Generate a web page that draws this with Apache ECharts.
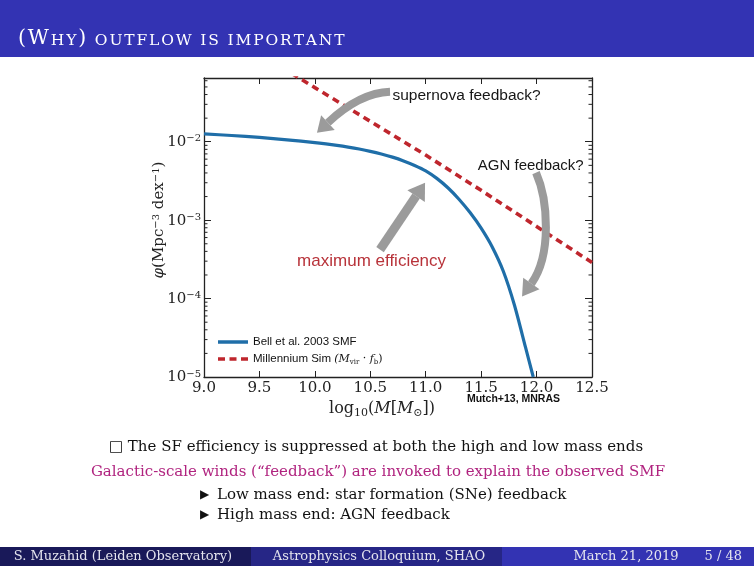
<!DOCTYPE html>
<html>
<head>
<meta charset="utf-8">
<script src="https://cdn.jsdelivr.net/npm/echarts@6/dist/echarts.min.js"></script>
<style>html,body{margin:0;padding:0;background:#fff;}#c{width:754px;height:566px;}</style>
</head>
<body>
<div id="c"></div>
<script>
// ---------- data ----------
const massBell = [9.0, 9.25, 9.5, 9.75, 10.0, 10.1, 10.2, 10.3, 10.4, 10.5, 10.6, 10.7, 10.8, 10.9, 11.0, 11.1, 11.2, 11.3, 11.4, 11.5, 11.6, 11.7, 11.8, 11.9, 11.97];
const phiBell  = [0.01259, 0.01202, 0.01135, 0.01059, 0.00977, 0.00940, 0.00900, 0.00855, 0.00807, 0.00755, 0.00698, 0.00637, 0.00570, 0.00499, 0.00425, 0.00341, 0.00259, 0.00185, 0.00125, 0.000791, 0.000455, 0.000223, 0.0000828, 0.0000240, 0.0000100];
const massSim  = [9.7, 10.0, 10.5, 11.0, 11.5, 12.0, 12.5];
const phiSim   = [0.0891, 0.0490, 0.0182, 0.00676, 0.00240, 0.000832, 0.000288];
const xTickLabels = ['9.0', '9.5', '10.0', '10.5', '11.0', '11.5', '12.0', '12.5'];
const yDecades = [-5, -4, -3, -2];
const minorMultipliers = [2, 3, 4, 5, 6, 7, 8, 9];
const seriesNames = ['Bell et al. 2003 SMF', 'Millennium Sim'];

const titleParts = [['B', '(W'], ['S', 'HY'], ['B', ')'], ['S', ' OUTFLOW IS IMPORTANT']];
const bodyLine1 = '\u25A1 The SF efficiency is suppressed at both the high and low mass ends';
const bodyLine2 = 'Galactic-scale winds (\u201Cfeedback\u201D) are invoked to explain the observed SMF';
const bullets = ['Low mass end: star formation (SNe) feedback', 'High mass end: AGN feedback'];
const footer = ['S. Muzahid (Leiden Observatory)', 'Astrophysics Colloquium, SHAO', 'March 21, 2019', '5 / 48'];
const credit = 'Mutch+13, MNRAS';

// annotation anchors in data coordinates [log10 M, phi]
const annSN   = { text: 'supernova feedback?', at: [10.70, 0.0386] };
const annAGN  = { text: 'AGN feedback?',       at: [11.47, 0.00495] };
const annMax  = { text: 'maximum efficiency',  at: [9.84, 0.000296] };
const arrowSN  = [[10.678, 0.0433], [10.407, 0.0421], [10.019, 0.0130]];
const arrowMax = [[10.588, 0.000421], [10.994, 0.0030]];
const arrowAGN = [[11.995, 0.00403], [12.103, 0.00182], [12.139, 0.000364], [11.869, 0.000106]];

// ---------- chart ----------
const chart = echarts.init(document.getElementById('c'), null, { renderer: 'canvas', width: 754, height: 566 });
const SERIF = 'DejaVu Serif';
const SANS = 'Liberation Sans';
const AX = '#222';
const Y_MIN = 1e-5, Y_MAX = 0.065;
const BLUE = '#1f6ea8', RED = '#bf262d';

const minorVals = [];
yDecades.forEach(e => minorMultipliers.forEach(k => { const v = k * Math.pow(10, e); if (v < Y_MAX) minorVals.push(v); }));

chart.setOption({
  animation: false,
  backgroundColor: '#ffffff',
  grid: { left: 204, top: 78, right: 162, bottom: 189, containLabel: false, outerBoundsMode: 'none' },
  legend: {
    orient: 'vertical', left: 213, top: 331, itemWidth: 30, itemGap: 5, itemHeight: 14,
    data: [
      { name: seriesNames[0], icon: 'path://M0 0H30V3.5H0Z' },
      { name: seriesNames[1], icon: 'path://M0 0H7V3.5H0Z M11.5 0H18.5V3.5H11.5Z M23 0H30V3.5H23Z' }
    ],
    formatter: n => n === seriesNames[1]
      ? '{t|' + n + ' }{m|(M}{ms|vir}{p| \u00B7 }{m|f}{ms|b}{p|)}'
      : '{t|' + n + '}',
    textStyle: {
      color: '#111',
      rich: {
        t: { fontFamily: SANS, fontSize: 11.5, color: '#111', lineHeight: 14 },
        m: { fontFamily: SERIF, fontStyle: 'italic', fontSize: 11, color: '#111', lineHeight: 14 },
        p: { fontFamily: SERIF, fontSize: 11, color: '#111', lineHeight: 14 },
        ms: { fontFamily: SERIF, fontSize: 7, color: '#111', lineHeight: 8, verticalAlign: 'bottom' }
      }
    }
  },
  xAxis: [{
    type: 'value', min: 9, max: 12.5, interval: 0.5, position: 'bottom',
    axisLine: { show: true, lineStyle: { color: AX, width: 1.3 } },
    axisTick: { show: true, inside: true, length: 6, lineStyle: { color: AX, width: 1 } },
    splitLine: { show: false },
    axisLabel: {
      margin: 4, fontFamily: SERIF, fontSize: 15, color: AX,
      formatter: v => xTickLabels[Math.round((v - 9) / 0.5)] || ''
    },
    name: '{a|log}{sub|10}{a|(}{i|M}{a|[}{i|M}{sub|\u2299}{a|])}',
    nameLocation: 'middle', nameGap: 13,
    nameTextStyle: {
      padding: [0, 32, 0, 0],
      rich: {
        a: { fontFamily: SERIF, fontSize: 16, color: AX, lineHeight: 18, verticalAlign: 'top' },
        i: { fontFamily: SERIF, fontStyle: 'italic', fontSize: 16, color: AX, lineHeight: 18, verticalAlign: 'top' },
        sub: { fontFamily: SERIF, fontSize: 11, color: AX, lineHeight: 10, verticalAlign: 'bottom' }
      }
    }
  }, {
    type: 'value', min: 9, max: 12.5, interval: 0.5, position: 'top',
    axisLine: { show: true, lineStyle: { color: AX, width: 1.3 } },
    axisTick: { show: true, inside: true, length: 6, lineStyle: { color: AX, width: 1 } },
    axisLabel: { show: false }, splitLine: { show: false }
  }],
  yAxis: [{
    type: 'log', logBase: 10, min: Y_MIN, max: Y_MAX, position: 'left',
    axisLine: { show: true, lineStyle: { color: AX, width: 1.3 } },
    axisTick: { show: true, inside: true, length: 7, lineStyle: { color: AX, width: 1 } },
    splitLine: { show: false },
    axisLabel: {
      margin: 3,
      formatter: v => {
        const l = Math.log10(v); const e = Math.round(l);
        if (Math.abs(l - e) > 1e-6) return '';
        return '{b|10}{s|' + (e < 0 ? '\u2212' : '') + Math.abs(e) + '}';
      },
      rich: {
        b: { fontFamily: SERIF, fontSize: 15, color: AX, lineHeight: 16, verticalAlign: 'bottom' },
        s: { fontFamily: SERIF, fontSize: 10, color: AX, lineHeight: 10, verticalAlign: 'top' }
      }
    }
  }, {
    type: 'log', logBase: 10, min: Y_MIN, max: Y_MAX, position: 'right',
    axisLine: { show: true, lineStyle: { color: AX, width: 1.3 } },
    axisTick: { show: true, inside: true, length: 7, lineStyle: { color: AX, width: 1 } },
    axisLabel: { show: false }, splitLine: { show: false }
  }],
  series: [{
    name: seriesNames[0], type: 'line', xAxisIndex: 0, yAxisIndex: 0,
    data: massBell.map((m, i) => [m, phiBell[i]]),
    symbol: 'none', showSymbol: false, smooth: 0.25,
    lineStyle: { color: BLUE, width: 3.2 }, itemStyle: { color: BLUE }, z: 3
  }, {
    name: seriesNames[1], type: 'line', xAxisIndex: 0, yAxisIndex: 0,
    data: massSim.map((m, i) => [m, phiSim[i]]),
    symbol: 'none', showSymbol: false, smooth: false,
    lineStyle: { color: RED, width: 3.6, type: [7, 5], cap: 'butt' }, itemStyle: { color: RED }, z: 3
  }, {
    name: 'minor', type: 'custom', xAxisIndex: 0, yAxisIndex: 0, silent: true,
    data: minorVals.map(v => [9, v]),
    renderItem: (params, api) => {
      const pL = api.coord([9, api.value(1)]);
      const pR = api.coord([12.5, api.value(1)]);
      const st = { stroke: AX, lineWidth: 1 };
      return { type: 'group', children: [
        { type: 'line', shape: { x1: pL[0], y1: pL[1], x2: pL[0] + 3.5, y2: pL[1] }, style: st },
        { type: 'line', shape: { x1: pR[0], y1: pR[1], x2: pR[0] - 3.5, y2: pR[1] }, style: st }
      ] };
    }
  }]
});

// ---------- annotations & slide decoration ----------
const px = p => chart.convertToPixel({ gridIndex: 0 }, p);
const ARROW = '#9b9b9b';

function arrow(id, pts, shaftW, headLen, headW) {
  const P = pts.map(px);
  const tip = P[P.length - 1];
  const prev = P[P.length - 2];
  let dx = tip[0] - prev[0], dy = tip[1] - prev[1];
  const L = Math.hypot(dx, dy); dx /= L; dy /= L;
  const base = [tip[0] - dx * headLen, tip[1] - dy * headLen];
  const nx = -dy, ny = dx;
  let shaft;
  if (P.length === 2) {
    shaft = { type: 'line', shape: { x1: P[0][0], y1: P[0][1], x2: base[0], y2: base[1] } };
  } else if (P.length === 3) {
    shaft = { type: 'bezierCurve', shape: { x1: P[0][0], y1: P[0][1], cpx1: P[1][0], cpy1: P[1][1], x2: base[0], y2: base[1] } };
  } else {
    shaft = { type: 'bezierCurve', shape: { x1: P[0][0], y1: P[0][1], cpx1: P[1][0], cpy1: P[1][1], cpx2: P[2][0], cpy2: P[2][1], x2: base[0], y2: base[1] } };
  }
  shaft.id = id + '_s';
  shaft.style = { stroke: ARROW, lineWidth: shaftW, fill: null };
  shaft.z = 10;
  const head = {
    id: id + '_h', type: 'polygon', z: 10,
    shape: { points: [tip, [base[0] + nx * headW / 2, base[1] + ny * headW / 2], [base[0] - nx * headW / 2, base[1] - ny * headW / 2]] },
    style: { fill: ARROW }
  };
  return [shaft, head];
}

function annText(id, a, color, size) {
  const p = px(a.at);
  return { id: id, type: 'text', x: p[0], y: p[1], z: 11,
    style: { text: a.text, fontFamily: SANS, fontSize: size, fill: color, align: 'left', verticalAlign: 'middle' } };
}

const gridBR = px([12.5, Y_MIN]);
const gridTL = px([9, Y_MAX]);
const g = [];
// header (small caps emulated; letter-spaced per glyph)
g.push({ id: 'hdr', type: 'rect', shape: { x: 0, y: 0, width: 754, height: 57 }, style: { fill: '#3333b3' }, z: 0 });
let titleRich = '';
titleParts.forEach(([k, s]) => { for (const ch of s) titleRich += '{' + k + '|' + (ch === ' ' ? '\u00A0' : ch) + '}'; });
g.push({ id: 'ttl', type: 'text', x: 18, y: 38, z: 1, style: {
  text: titleRich,
  verticalAlign: 'middle',
  rich: {
    B: { fontFamily: SERIF, fontSize: 20.5, fill: '#ffffff', lineHeight: 22, verticalAlign: 'bottom', padding: [0, 1.85, 0, 0] },
    S: { fontFamily: SERIF, fontSize: 15.5, fill: '#ffffff', lineHeight: 18, verticalAlign: 'bottom', padding: [0, 1.85, 0, 0] }
  }
} });
// footer
const fCols = ['#191959', '#262686', '#3333b3'];
const fX = [0, 251, 502, 754];
for (let i = 0; i < 3; i++) {
  g.push({ id: 'fb' + i, type: 'rect', shape: { x: fX[i], y: 547, width: fX[i + 1] - fX[i], height: 19 }, style: { fill: fCols[i] }, z: 0 });
}
const fStyle = { fontFamily: SERIF, fontSize: 13, fill: '#e4e4ee', verticalAlign: 'middle' };
g.push({ id: 'ft0', type: 'text', x: 123, y: 556.5, z: 1, style: Object.assign({ text: footer[0], align: 'center' }, fStyle) });
g.push({ id: 'ft1', type: 'text', x: 379, y: 556.5, z: 1, style: Object.assign({ text: footer[1], align: 'center' }, fStyle) });
g.push({ id: 'ft2', type: 'text', x: 626, y: 556.5, z: 1, style: Object.assign({ text: footer[2], align: 'center' }, fStyle) });
g.push({ id: 'ft3', type: 'text', x: 742, y: 556.5, z: 1, style: Object.assign({ text: footer[3], align: 'right' }, fStyle) });
// body text
const bStyle = { fontFamily: SERIF, fontSize: 15, verticalAlign: 'middle' };
g.push({ id: 'b1', type: 'text', x: 376, y: 447, style: Object.assign({ text: bodyLine1, align: 'center', fill: '#111' }, bStyle) });
g.push({ id: 'b2', type: 'text', x: 378, y: 472, style: Object.assign({ text: bodyLine2, align: 'center', fill: '#b0237f' }, bStyle) });
bullets.forEach((b, i) => {
  g.push({ id: 'bt' + i, type: 'text', x: 200, y: 495 + i * 20, style: { text: '\u25B6', align: 'left', fill: '#111', fontSize: 12, fontFamily: 'DejaVu Sans', verticalAlign: 'middle' } });
  g.push({ id: 'bx' + i, type: 'text', x: 217, y: 495 + i * 20, style: Object.assign({ text: b, align: 'left', fill: '#111' }, bStyle) });
});
// y-axis title
g.push({ id: 'ytl', type: 'text', x: gridTL[0] - 45, y: 220, rotation: Math.PI / 2, z: 2, style: {
  text: '{i|\u03C6}{a|(Mpc}{s|\u22123}{a| dex}{s|\u22121}{a|)}',
  align: 'center', verticalAlign: 'middle',
  rich: {
    a: { fontFamily: SERIF, fontSize: 15, fill: AX, lineHeight: 16, verticalAlign: 'bottom' },
    i: { fontFamily: SERIF, fontStyle: 'italic', fontSize: 15, fill: AX, lineHeight: 16, verticalAlign: 'bottom' },
    s: { fontFamily: SERIF, fontSize: 10, fill: AX, lineHeight: 10, verticalAlign: 'top' }
  }
} });
// credit
g.push({ id: 'cred', type: 'text', x: gridBR[0] - 32, y: 399, style: { text: credit, fontFamily: SANS, fontWeight: 'bold', fontSize: 10.5, fill: '#111', align: 'right', verticalAlign: 'middle' } });
// annotations
g.push(...arrow('aSN', arrowSN, 8, 15, 20));
g.push(...arrow('aMax', arrowMax, 9, 16, 21));
g.push(...arrow('aAGN', arrowAGN, 8, 16, 20));
g.push(annText('tSN', annSN, '#161616', 15.5));
g.push(annText('tAGN', annAGN, '#161616', 15));
g.push(annText('tMax', annMax, '#b8333a', 17));

chart.setOption({ graphic: g });
</script>
</body>
</html>
